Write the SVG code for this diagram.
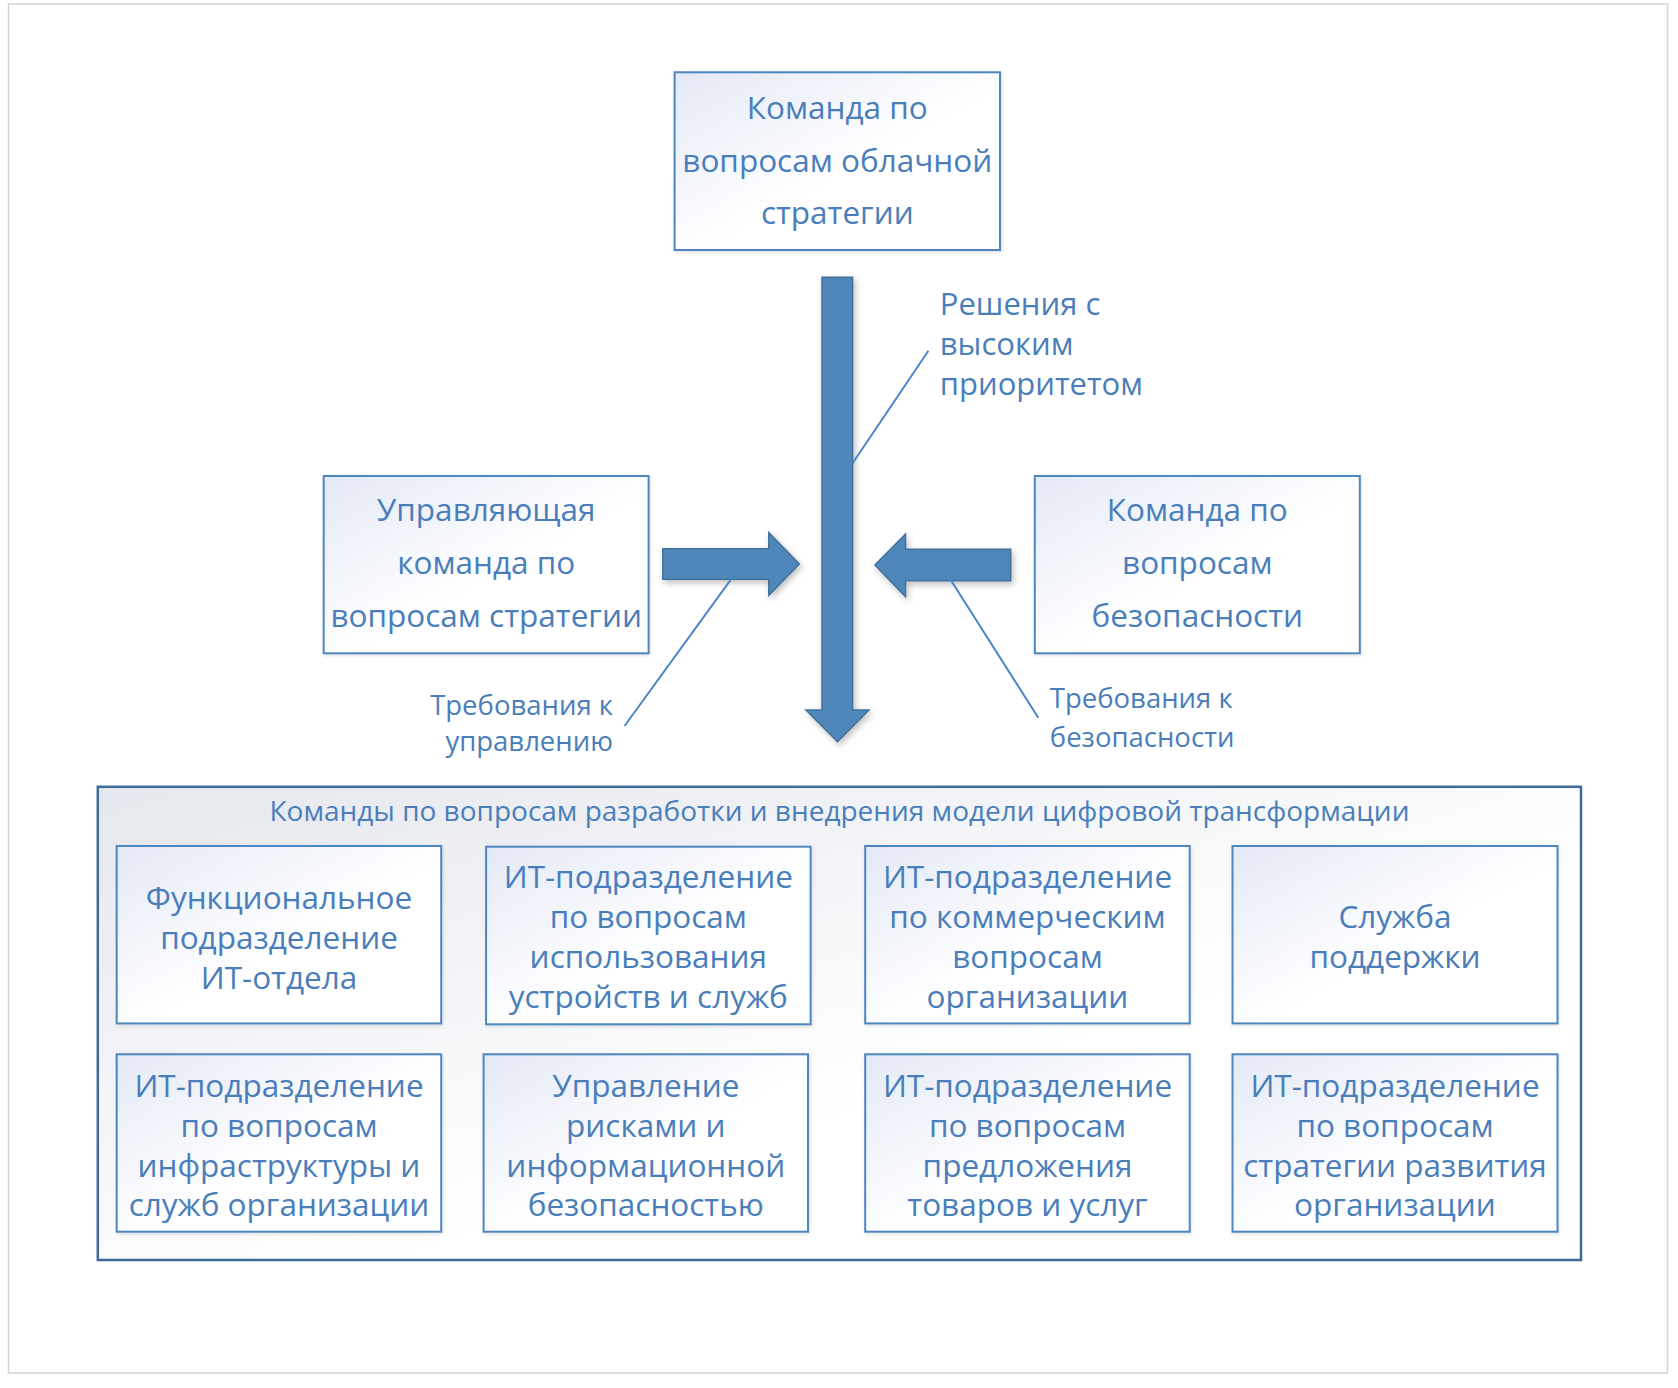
<svg xmlns="http://www.w3.org/2000/svg" width="1678" height="1388" viewBox="0 0 1678 1388">
  <defs>
    <linearGradient id="boxGrad" x1="0" y1="0" x2="1" y2="1">
      <stop offset="0" stop-color="#e3e9f5"/>
      <stop offset="0.55" stop-color="#ffffff"/>
      <stop offset="1" stop-color="#ffffff"/>
    </linearGradient>
    <linearGradient id="contGrad" x1="0" y1="0" x2="1" y2="1">
      <stop offset="0" stop-color="#e4e7ed"/>
      <stop offset="0.6" stop-color="#ffffff"/>
      <stop offset="1" stop-color="#ffffff"/>
    </linearGradient>
    <filter id="shadow" x="-20%" y="-20%" width="140%" height="140%">
      <feDropShadow dx="2" dy="3" stdDeviation="3" flood-color="#000000" flood-opacity="0.25"/>
    </filter>
    <filter id="boxShadow" x="-5%" y="-5%" width="110%" height="110%">
      <feDropShadow dx="1" dy="1.5" stdDeviation="1.5" flood-color="#000000" flood-opacity="0.12"/>
    </filter>
  </defs>
  <style>
    .box { fill: url(#boxGrad); stroke: #4f86c0; stroke-width: 2; filter: url(#boxShadow); }
    .cont { fill: url(#contGrad); stroke: #3e6b98; stroke-width: 2.5; }
    .arrow { fill: #4f87bb; stroke: #41719c; stroke-width: 1.5; filter: url(#shadow); }
    .lead { stroke: #4a86c6; stroke-width: 2; fill: none; }
    .t { font-family: "Open Sans", "Noto Sans", "DejaVu Sans", sans-serif; fill: #4a7ebb; text-anchor: middle; }
    .big { font-size: 31.5px; }
    .lbl { font-size: 31px; text-anchor: start; }
    .sm { font-size: 27.5px; }
    .ttl { font-size: 28px; }
  </style>

  <rect x="8.5" y="4" width="1659" height="1369" fill="#ffffff" stroke="#d2d2d2" stroke-width="1.5"/>

  <g id="top-team">
    <rect class="box" x="674.6" y="72.3" width="325.4" height="177.7"/>
    <text class="t big" x="837.3" y="119">Команда по</text>
    <text class="t big" x="837.3" y="171.7">вопросам облачной</text>
    <text class="t big" x="837.3" y="224">стратегии</text>
  </g>

  <g id="governance-team">
    <rect class="box" x="323.7" y="476" width="324.9" height="177.3"/>
    <text class="t big" x="486.2" y="520.7">Управляющая</text>
    <text class="t big" x="486.2" y="574">команда по</text>
    <text class="t big" x="486.2" y="626.7">вопросам стратегии</text>
  </g>

  <g id="security-team">
    <rect class="box" x="1034.8" y="476" width="325" height="177.3"/>
    <text class="t big" x="1197.3" y="520.7">Команда по</text>
    <text class="t big" x="1197.3" y="574">вопросам</text>
    <text class="t big" x="1197.3" y="626.7">безопасности</text>
  </g>

  <g id="connectors">
    <polygon class="arrow" points="822,277.3 852.6,277.3 852.6,710 869,710 837.5,741.7 806,710 822,710"/>
    <polygon class="arrow" points="662.8,548.7 768.8,548.7 768.8,532.7 799.4,564 768.8,595.3 768.8,579.3 662.8,579.3"/>
    <polygon class="arrow" points="1010.7,549.3 905.5,549.3 905.5,534 874.9,565 905.5,596.7 905.5,580.7 1010.7,580.7"/>
    <line class="lead" x1="928.4" y1="350.7" x2="852.6" y2="463.3"/>
    <line class="lead" x1="731.7" y1="578.3" x2="624.5" y2="726"/>
    <line class="lead" x1="950.3" y1="579.3" x2="1038.3" y2="717.7"/>
  </g>

  <g id="label-priority">
    <text class="t lbl" x="939.8" y="315">Решения с</text>
    <text class="t lbl" x="939.8" y="355">высоким</text>
    <text class="t lbl" x="939.8" y="395">приоритетом</text>
  </g>
  <g id="label-governance">
    <text class="t sm" x="613" y="715" text-anchor="end" style="text-anchor:end">Требования к</text>
    <text class="t sm" x="613" y="751" text-anchor="end" style="text-anchor:end">управлению</text>
  </g>
  <g id="label-security">
    <text class="t sm" x="1049.8" y="708.3" style="text-anchor:start">Требования к</text>
    <text class="t sm" x="1049.8" y="746.7" style="text-anchor:start">безопасности</text>
  </g>

  <g id="dt-teams">
    <rect class="cont" x="97.8" y="786.8" width="1483.2" height="473.2"/>
    <text class="t ttl" x="839.5" y="820.7">Команды по вопросам разработки и внедрения модели цифровой трансформации</text>
  </g>

  <g id="functional-it">
    <rect class="box" x="116.7" y="846" width="324.5" height="177.4"/>
    <text class="t big" x="279" y="909.3">Функциональное</text>
    <text class="t big" x="279" y="949.3">подразделение</text>
    <text class="t big" x="279" y="989.3">ИТ-отдела</text>
  </g>

  <g id="devices-services">
    <rect class="box" x="486.1" y="846.7" width="324.5" height="177.6"/>
    <text class="t big" x="648.3" y="888.3">ИТ-подразделение</text>
    <text class="t big" x="648.3" y="927.7">по вопросам</text>
    <text class="t big" x="648.3" y="967.7">использования</text>
    <text class="t big" x="648.3" y="1007.7">устройств и служб</text>
  </g>

  <g id="business-it">
    <rect class="box" x="865.2" y="846" width="324.5" height="177.4"/>
    <text class="t big" x="1027.5" y="888.3">ИТ-подразделение</text>
    <text class="t big" x="1027.5" y="927.7">по коммерческим</text>
    <text class="t big" x="1027.5" y="967.7">вопросам</text>
    <text class="t big" x="1027.5" y="1007.7">организации</text>
  </g>

  <g id="support">
    <rect class="box" x="1232.5" y="846" width="325" height="177.4"/>
    <text class="t big" x="1395" y="928.3">Служба</text>
    <text class="t big" x="1395" y="968.3">поддержки</text>
  </g>

  <g id="infrastructure">
    <rect class="box" x="116.7" y="1054.3" width="324.5" height="177.4"/>
    <text class="t big" x="279" y="1096.7">ИТ-подразделение</text>
    <text class="t big" x="279" y="1136.7">по вопросам</text>
    <text class="t big" x="279" y="1176.7">инфраструктуры и</text>
    <text class="t big" x="279" y="1216">служб организации</text>
  </g>

  <g id="risk-security">
    <rect class="box" x="483.6" y="1054.3" width="324.4" height="177.4"/>
    <text class="t big" x="645.8" y="1096.7">Управление</text>
    <text class="t big" x="645.8" y="1136.7">рисками и</text>
    <text class="t big" x="645.8" y="1176.7">информационной</text>
    <text class="t big" x="645.8" y="1216">безопасностью</text>
  </g>

  <g id="products-services">
    <rect class="box" x="865.2" y="1054.3" width="324.5" height="177.4"/>
    <text class="t big" x="1027.5" y="1096.7">ИТ-подразделение</text>
    <text class="t big" x="1027.5" y="1136.7">по вопросам</text>
    <text class="t big" x="1027.5" y="1176.7">предложения</text>
    <text class="t big" x="1027.5" y="1216">товаров и услуг</text>
  </g>

  <g id="strategy-dev">
    <rect class="box" x="1232.5" y="1054.3" width="325" height="177.4"/>
    <text class="t big" x="1395" y="1096.7">ИТ-подразделение</text>
    <text class="t big" x="1395" y="1136.7">по вопросам</text>
    <text class="t big" x="1395" y="1176.7">стратегии развития</text>
    <text class="t big" x="1395" y="1216">организации</text>
  </g>
</svg>
